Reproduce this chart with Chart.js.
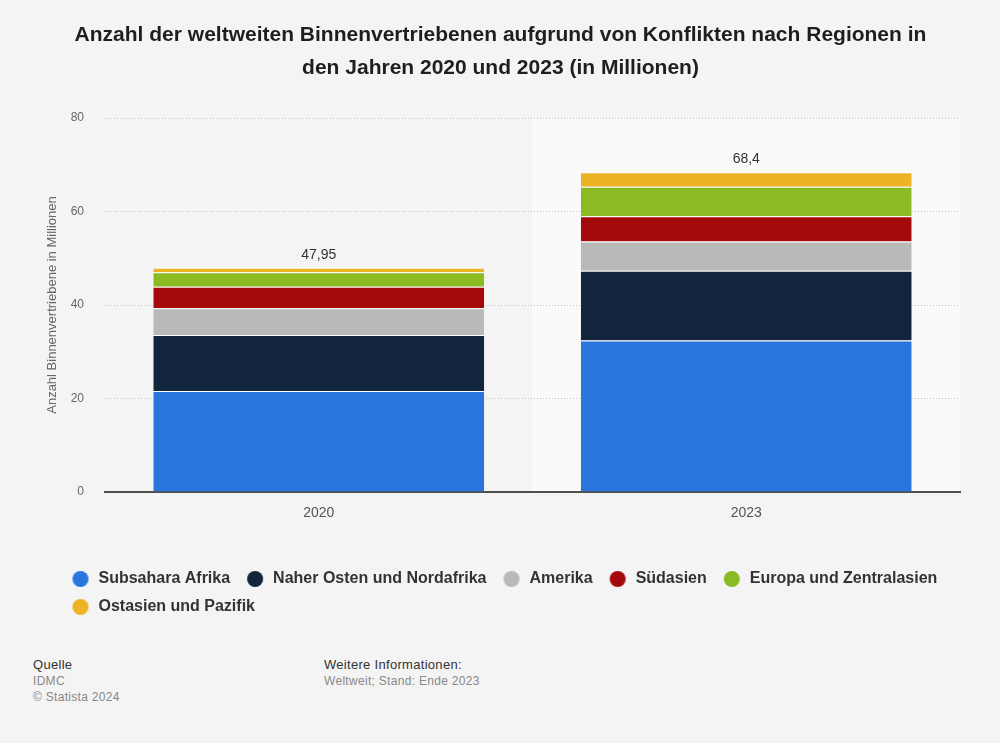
<!DOCTYPE html>
<html><head><meta charset="utf-8">
<script src="https://cdn.jsdelivr.net/npm/chart.js@4"></script>
<style>
html,body{margin:0;padding:0;background:#f4f4f4;width:1000px;height:743px;overflow:hidden;font-family:"Liberation Sans",Arial,sans-serif;}
#wrap{position:absolute;left:0;top:0;width:1000px;height:641px;}
.f{position:absolute;font-size:12px;line-height:16px;color:#888;letter-spacing:0.3px;}
.f b{font-weight:normal;color:#333;font-size:13px;}
</style></head>
<body>
<div id="wrap"><canvas id="c" width="1000" height="641"></canvas></div>
<div class="f" style="left:33px;top:657px;"><b>Quelle</b><br>IDMC<br>© Statista 2024</div>
<div class="f" style="left:324px;top:657px;"><b>Weitere Informationen:</b><br>Weltweit; Stand: Ende 2023</div>
<script>
const categories = ['2020', '2023'];
const subsaharaAfrika = [21.6, 32.4];
const naherOstenNordafrika = [12.0, 14.9];
const amerika = [5.7, 6.3];
const suedasien = [4.6, 5.4];
const europaZentralasien = [3.1, 6.3];
const ostasienPazifik = [0.95, 3.1];
const seriesNames = ['Subsahara Afrika','Naher Osten und Nordafrika','Amerika','Südasien','Europa und Zentralasien','Ostasien und Pazifik'];
const seriesColors = ['#2876dd','#11263c','#b9b9b9','#a40a0c','#8abb23','#ecb424'];
const yTicks = [0, 20, 40, 60, 80];
const highlightIndex = 1;

const seriesData = [subsaharaAfrika, naherOstenNordafrika, amerika, suedasien, europaZentralasien, ostasienPazifik];

function makeDot(color){
  const cv = document.createElement('canvas');
  cv.width = 23; cv.height = 16;
  const g = cv.getContext('2d');
  g.fillStyle = color;
  g.beginPath(); g.arc(13, 8, 8, 0, Math.PI*2); g.fill();
  return cv;
}
const dots = seriesColors.map(makeDot);

const highlightPlugin = {
  id: 'highlight',
  beforeDraw(chart){
    const {ctx, chartArea, scales} = chart;
    const x = scales.x;
    const half = (x.width / categories.length) / 2;
    const cx = x.getPixelForValue(highlightIndex);
    ctx.save();
    ctx.fillStyle = '#fafafa';
    ctx.fillRect(cx - half, chartArea.top, half*2, chartArea.bottom - chartArea.top);
    ctx.restore();
  }
};
const legendShift = {
  id: 'legendShift',
  afterLayout(chart){
    chart.legend.left = 55.5;
    chart.legend.right = 1000;
  }
};
const totalsPlugin = {
  id: 'totals',
  afterDatasetsDraw(chart){
    const {ctx} = chart;
    const last = chart.getDatasetMeta(seriesData.length - 1);
    ctx.save();
    ctx.font = '14px "Liberation Sans", Arial, sans-serif';
    ctx.fillStyle = '#333';
    ctx.textAlign = 'center';
    ctx.textBaseline = 'middle';
    categories.forEach((c, i) => {
      const total = seriesData.reduce((s, arr) => s + arr[i], 0);
      const el = last.data[i];
      const txt = total.toLocaleString('de-DE', {maximumFractionDigits: 2});
      ctx.fillText(txt, el.x, el.y - 13);
    });
    ctx.restore();
  }
};

new Chart(document.getElementById('c'), {
  type: 'bar',
  data: {
    labels: categories,
    datasets: seriesData.map((d, i) => ({
      label: seriesNames[i],
      data: d,
      backgroundColor: seriesColors[i],
      borderColor: '#ffffff',
      borderWidth: {top: 1, bottom: 0, left: 0, right: 0},
      borderSkipped: false,
      categoryPercentage: 1,
      barPercentage: 0.774
    }))
  },
  options: {
    responsive: false,
    animation: false,
    layout: {padding: {left: 41, right: 40, top: 0, bottom: 16}},
    plugins: {
      title: {
        display: true,
        text: ['Anzahl der weltweiten Binnenvertriebenen aufgrund von Konflikten nach Regionen in', 'den Jahren 2020 und 2023 (in Millionen)'],
        color: '#1e1e1e',
        font: {family: '"Liberation Sans", Arial, sans-serif', size: 21, weight: 'bold', lineHeight: '33px'},
        padding: {top: 19, bottom: 33}
      },
      legend: {
        position: 'bottom',
        align: 'start',
        labels: {
          usePointStyle: true,
          pointStyleWidth: 23,
          boxHeight: 16,
          padding: 12,
          color: '#333',
          font: {family: '"Liberation Sans", Arial, sans-serif', size: 16, weight: 'bold'},
          generateLabels(chart){
            const items = Chart.defaults.plugins.legend.labels.generateLabels(chart);
            items.forEach((it, i) => { it.pointStyle = dots[i]; it.lineWidth = 0; });
            return items;
          }
        }
      },
      tooltip: {enabled: false}
    },
    scales: {
      x: {
        stacked: true,
        grid: {display: false, drawTicks: false},
        border: {display: true, color: '#4f4f4f', width: 2},
        ticks: {color: '#555', padding: 13, font: {family: '"Liberation Sans", Arial, sans-serif', size: 14}},
        afterFit(s){ s.height = 67; }
      },
      y: {
        stacked: true,
        min: 0, max: 80,
        afterBuildTicks(s){ s.ticks = yTicks.map(v => ({value: v})); },
        grid: {color: ctx => ctx.tick && ctx.tick.value === 0 ? 'rgba(0,0,0,0)' : '#c4c4c4', drawTicks: false, lineWidth: 1},
        border: {display: false, dash: [1, 2]},
        ticks: {color: '#666', padding: 21, font: {family: '"Liberation Sans", Arial, sans-serif', size: 12}},
        title: {display: true, text: 'Anzahl Binnenvertriebene in Millionen', color: '#666', padding: {top: 4, bottom: 4}, font: {family: '"Liberation Sans", Arial, sans-serif', size: 13}},
        afterFit(s){ s.width = 64; }
      }
    }
  },
  plugins: [highlightPlugin, legendShift, totalsPlugin]
});
</script>
</body></html>
